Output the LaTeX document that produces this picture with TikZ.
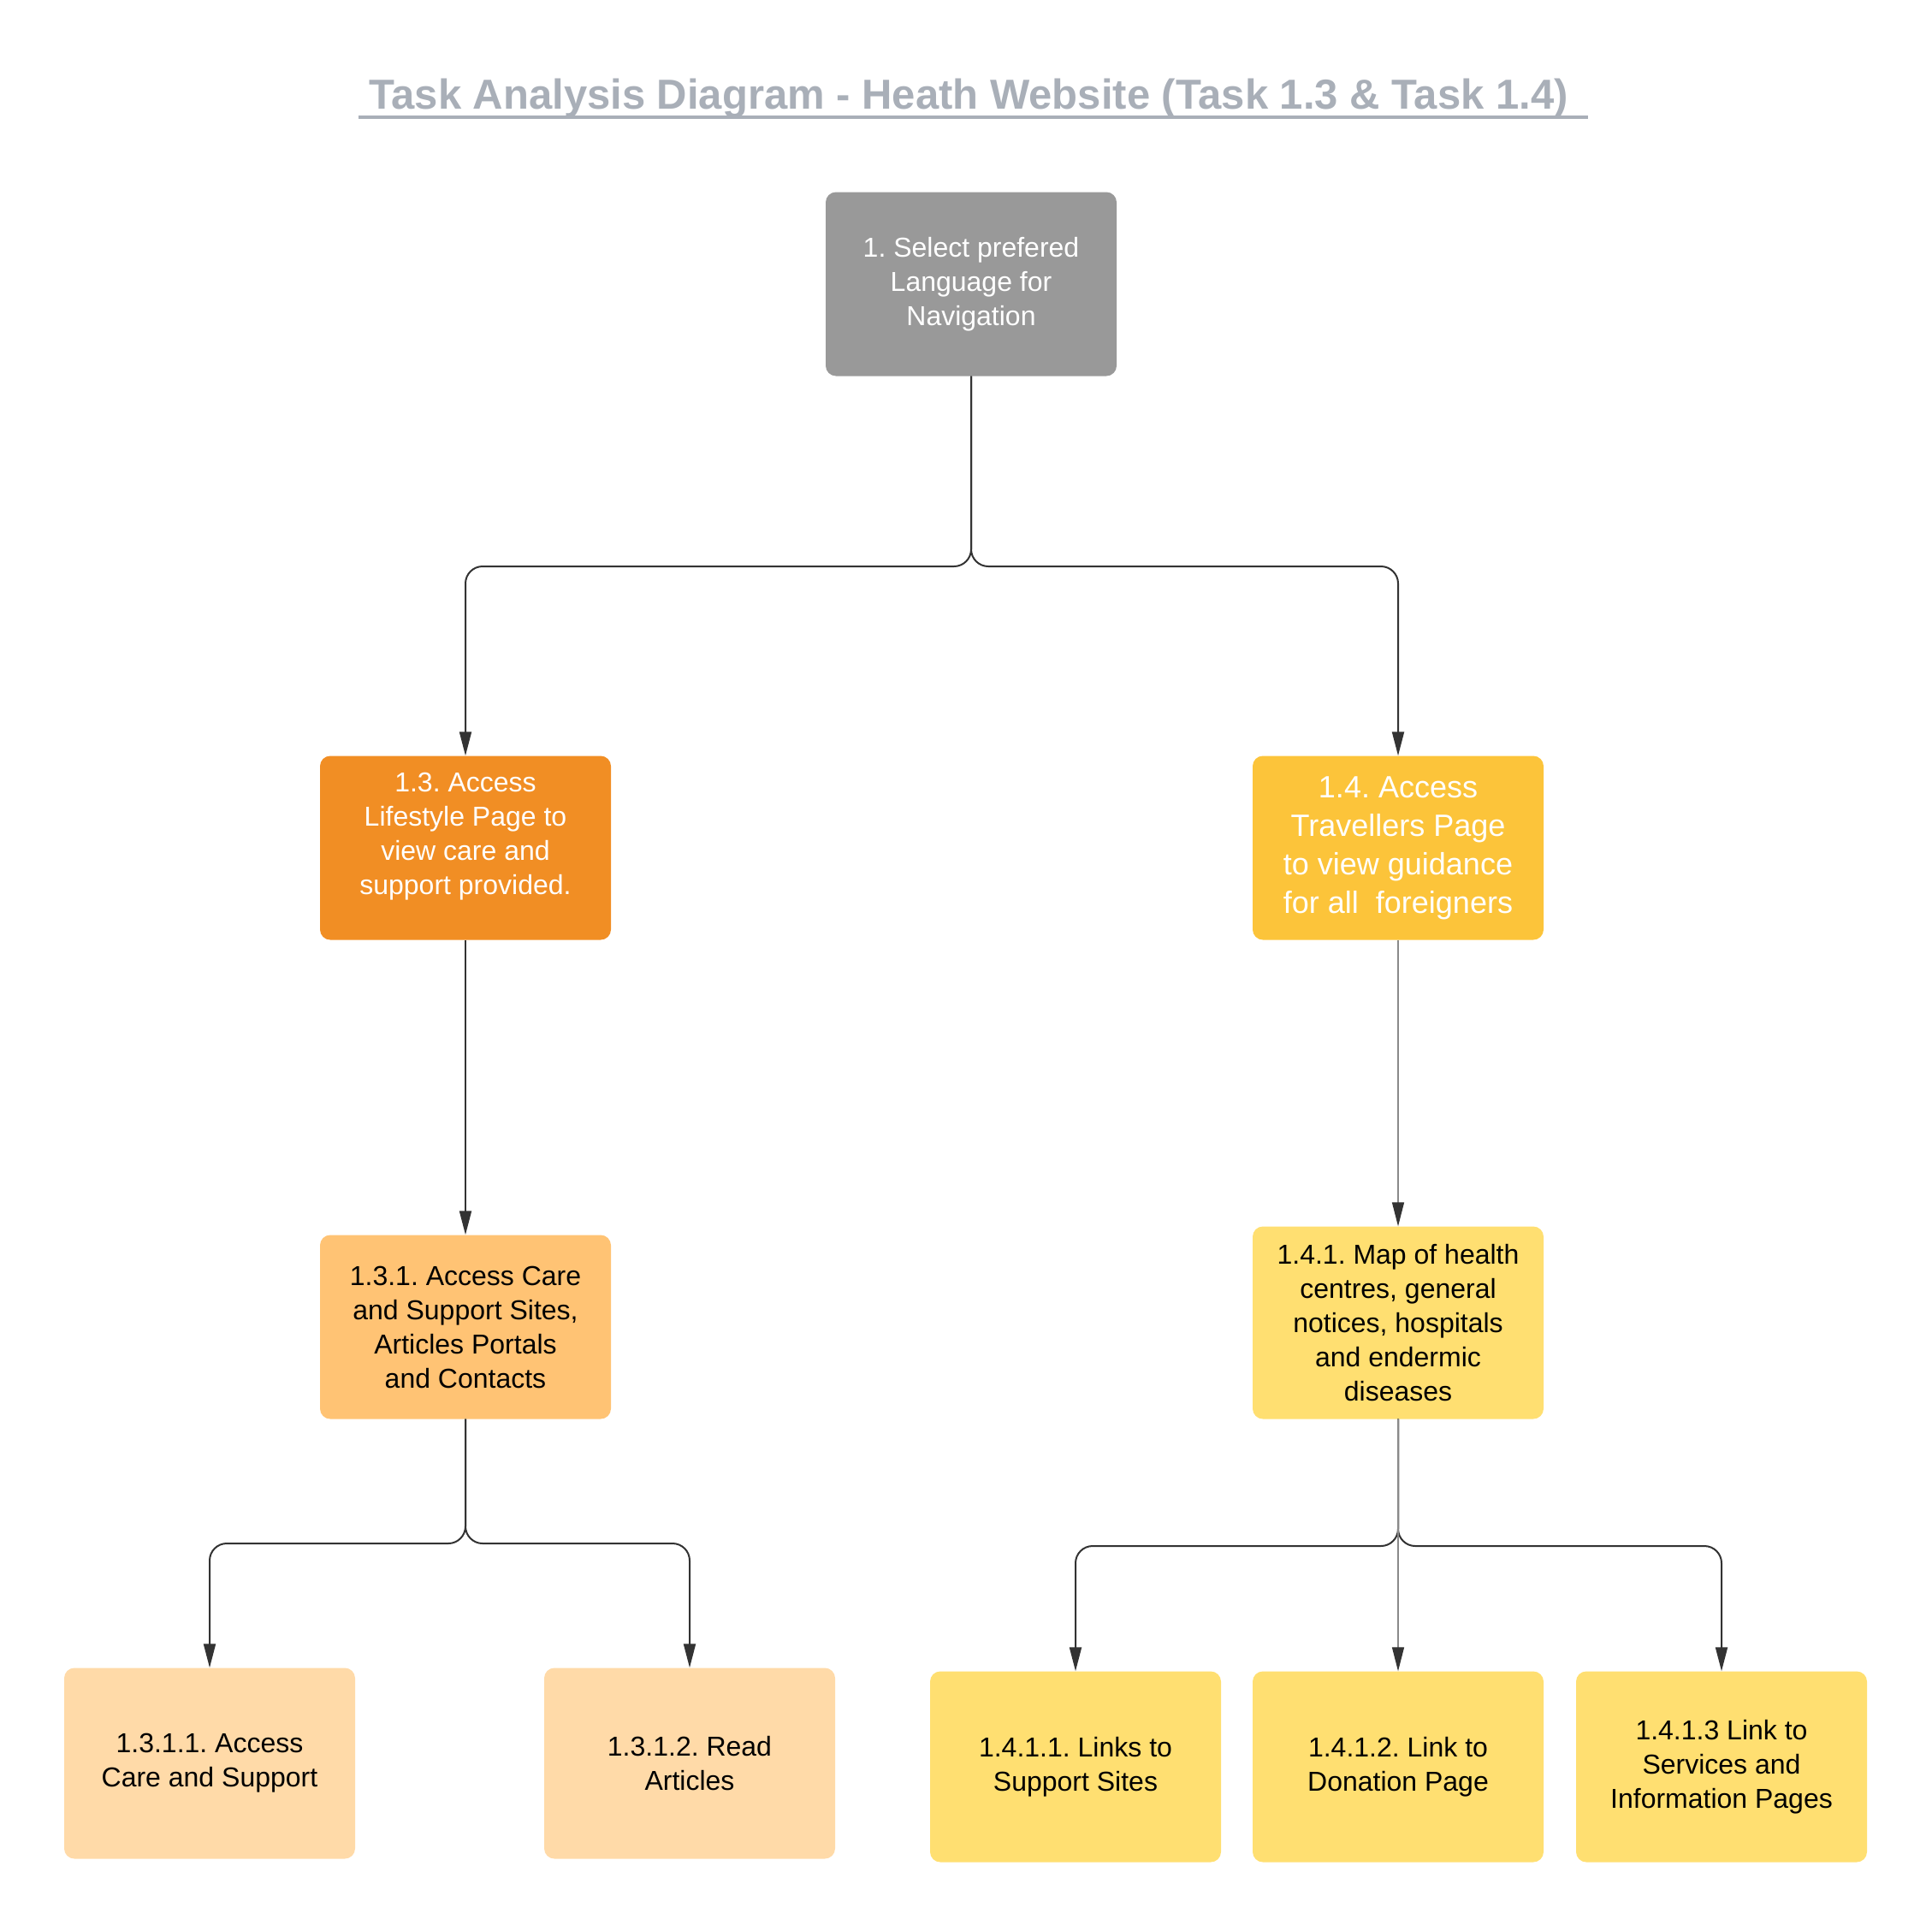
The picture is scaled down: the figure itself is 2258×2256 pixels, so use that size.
\documentclass[tikz,border=0pt]{standalone}
\usepackage{fontspec}
\setmainfont{Liberation Sans}
\usetikzlibrary{arrows.meta,positioning}
\frenchspacing
\definecolor{titlegray}{HTML}{A9AFB8}
\definecolor{rootgray}{HTML}{999999}
\definecolor{lifeorange}{HTML}{F18E24}
\definecolor{travelyellow}{HTML}{FCC43A}
\definecolor{careorange}{HTML}{FFC374}
\definecolor{mapyellow}{HTML}{FFDF71}
\definecolor{peach}{HTML}{FFDAA8}
\definecolor{linkdark}{HTML}{333333}
\definecolor{linklight}{HTML}{8A8A8A}
\tikzset{
  taskbox/.style={rounded corners=12pt,minimum width=340pt,minimum height=215pt,
    inner sep=4pt,align=center,font=\fontsize{32}{40}\selectfont},
  link/.style={draw=linkdark,line width=2pt,rounded corners=20pt,
    -{Triangle[length=28pt,width=14pt,color=linkdark]}},
  thinlink/.style={draw=linklight,line width=1.2pt,
    -{Triangle[length=28pt,width=14pt,color=linkdark]}}
}
\begin{document}
\begin{tikzpicture}[x=1pt,y=-1pt]
  \useasboundingbox (0,0) rectangle (2258,2256);
  \node[anchor=base,text=titlegray,font=\bfseries\fontsize{49}{59}\selectfont] (title) at (1132,128)
    {Task Analysis Diagram - Heath Website (Task 1.3 \& Task 1.4)};
  \draw[titlegray,line width=3pt] (419,137) -- (1856,137);

  \node[taskbox,fill=rootgray,text=white] (root) at (1135,332)
    {1. Select prefered\\Language for\\Navigation};
  \node[taskbox,fill=lifeorange,text=white] (c13) at (544,991)
    {1.3. Access\\Lifestyle Page to\\view care and\\support provided.\\[-6pt]};
  \node[taskbox,fill=travelyellow,text=white,font=\fontsize{36}{45}\selectfont] (c14) at (1634,991)
    {1.4. Access\\Travellers Page\\to view guidance\\for all\ \ foreigners};
  \node[taskbox,fill=careorange] (c131) at (544,1551)
    {1.3.1. Access Care\\and Support Sites,\\Articles Portals\\and Contacts};
  \node[taskbox,fill=mapyellow,minimum height=225pt] (c141) at (1634,1546)
    {1.4.1. Map of health\\centres, general\\notices, hospitals\\and endermic\\diseases};
  \node[taskbox,fill=peach,minimum height=223pt] (c1311) at (245,2061)
    {1.3.1.1. Access\\Care and Support};
  \node[taskbox,fill=peach,minimum height=223pt] (c1312) at (806,2061)
    {1.3.1.2. Read\\Articles};
  \node[taskbox,fill=mapyellow,minimum height=223pt] (c1411) at (1257,2065)
    {1.4.1.1. Links to\\Support Sites};
  \node[taskbox,fill=mapyellow,minimum height=223pt] (c1412) at (1634,2065)
    {1.4.1.2. Link to\\Donation Page};
  \node[taskbox,fill=mapyellow,minimum height=223pt] (c1413) at (2012,2065)
    {1.4.1.3 Link to\\Services and\\Information Pages};

  \coordinate (fork1) at (1135,662);
  \coordinate (fork2) at (544,1804);
  \coordinate (fork3) at (1634,1807);
  \draw[link] (root.south) -- (fork1) -| (c13.north);
  \draw[link] (root.south) -- (fork1) -| (c14.north);
  \draw[link] (c13) -- (c131);
  \draw[thinlink] (c14) -- (c141);
  \draw[link] (c131.south) -- (fork2) -| (c1311.north);
  \draw[link] (c131.south) -- (fork2) -| (c1312.north);
  \draw[link] (c141.south) -- (fork3) -| (c1411.north);
  \draw[link] (c141.south) -- (fork3) -| (c1413.north);
  \draw[thinlink] (c141) -- (c1412);
\end{tikzpicture}
\end{document}
